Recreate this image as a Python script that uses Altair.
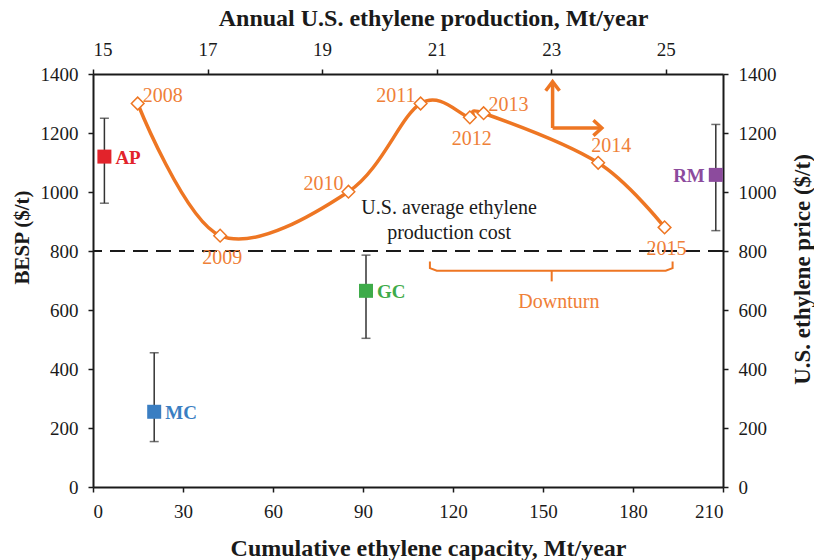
import altair as alt
import pandas as pd

# ---- data -------------------------------------------------------------
years = ["2008", "2009", "2010", "2011", "2012", "2013", "2014", "2015"]
production = [15.78, 17.22, 19.46, 20.72, 21.58, 21.82, 23.82, 24.98]   # Mt/year (top axis)
price = [1300, 852, 1001, 1300, 1253, 1267, 1099, 880]                # $/t (right axis)
year_label_side = ["right", "below", "left", "left", "below", "right", "above", "below"]

pathways = ["AP", "MC", "GC", "RM"]
capacity = [3.8, 20.4, 91.0, 207.6]          # Mt/year (bottom axis)
besp = [1120, 255, 665, 1058]                # $/t (left axis)
besp_low = [962, 154, 504, 869]
besp_high = [1250, 455, 786, 1229]
path_colors = ["#E2232B", "#3A7EC2", "#3EAB49", "#8C4B9D"]
path_label_side = ["right", "right", "right", "left"]

cost_line = 800
cost_text = ["U.S. average ethylene", "production cost"]
cost_text_x = [118.7, 118.7]
cost_text_y = [946, 861]

bracket_x = [112.3, 112.3, 114.6, 190.9, 193.2, 193.2]
bracket_y = [764, 742, 733, 733, 742, 764]
bracket_tip_x = [152.9, 152.9]
bracket_tip_y = [733, 697]
downturn_x = [155.3]
downturn_y = [628]

# arrows: seg id, x, y
arrow_seg = ["v", "v", "h", "h", "hv", "hv", "hv", "hh", "hh", "hh"]
arrow_x = [153.2, 153.2, 153.2, 169.3, 150.9, 153.2, 155.5, 166.8, 169.6, 166.8]
arrow_y = [1217, 1370, 1217, 1217, 1343, 1374, 1343, 1243, 1217, 1191]

# ---- styling ----------------------------------------------------------
FONT = "Liberation Serif"
ORANGE = "#EE7623"
ORANGE_TXT = "#EF8038"
INK = "#1a1a1a"

xb_scale = alt.Scale(domain=[0, 210], nice=False, zero=False)
yl_scale = alt.Scale(domain=[0, 1400], nice=False, zero=False)
xt_scale = alt.Scale(domain=[15, 26], nice=False, zero=False)
yr_scale = alt.Scale(domain=[0, 1400], nice=False, zero=False)

common_axis = dict(
    labelFont=FONT, labelFontSize=19, labelColor=INK, format="d",
    titleFont=FONT, titleFontWeight="bold", titleColor=INK,
    domainColor=INK, domainWidth=2, tickColor=INK, tickWidth=1.5, tickSize=5,
    labelPadding=10, grid=False,
)

axis_b = alt.Axis(orient="bottom", values=list(range(0, 211, 30)),
                  title="Cumulative ethylene capacity, Mt/year", titleFontSize=24,
                  titleX=335, titleY=61, titleBaseline="middle", titleAlign="center",
                  **common_axis)
axis_l = alt.Axis(orient="left", values=list(range(0, 1401, 200)),
                  title="BESP ($/t)", titleAngle=270, titleFontSize=21,
                  titleX=-71, titleY=163, titleBaseline="middle", titleAlign="center",
                  **common_axis)
axis_t = alt.Axis(orient="top", values=[15, 17, 19, 21, 23, 25],
                  title="Annual U.S. ethylene production, Mt/year", titleFontSize=24,
                  titleX=340, titleY=-56, titleBaseline="middle", titleAlign="center",
                  **common_axis)
axis_r = alt.Axis(orient="right", values=list(range(0, 1401, 200)),
                  title="U.S. ethylene price ($/t)", titleAngle=270, titleFontSize=23,
                  titleX=79, titleY=195, titleBaseline="middle", titleAlign="center",
                  **common_axis)


def XB(f):
    return alt.X(f, type="quantitative", scale=xb_scale, axis=axis_b)


def YL(f):
    return alt.Y(f, type="quantitative", scale=yl_scale, axis=axis_l)


def XT(f):
    return alt.X(f, type="quantitative", scale=xt_scale, axis=axis_t)


def YR(f):
    return alt.Y(f, type="quantitative", scale=yr_scale, axis=axis_r)


# ---- bottom / left group ----------------------------------------------
pdf = pd.DataFrame({"name": pathways, "x": capacity, "y": besp, "lo": besp_low,
                    "hi": besp_high, "color": path_colors, "side": path_label_side})

dash = alt.Chart(pd.DataFrame({"y": [cost_line]})).mark_rule(
    color=INK, strokeWidth=2, strokeDash=[15, 8]).encode(y=YL("y"))

err = alt.Chart(pdf).mark_rule(color="#333333", strokeWidth=1.5).encode(
    x=XB("x"), y=YL("lo"), y2="hi")
cap_lo = alt.Chart(pdf).mark_tick(color="#333333", thickness=1.5, size=9,
                                  orient="horizontal").encode(x=XB("x"), y=YL("lo"))
cap_hi = alt.Chart(pdf).mark_tick(color="#333333", thickness=1.5, size=9,
                                  orient="horizontal").encode(x=XB("x"), y=YL("hi"))
squares = alt.Chart(pdf).mark_square(size=196, opacity=1).encode(
    x=XB("x"), y=YL("y"), color=alt.Color("color:N", scale=None))
lab_r = alt.Chart(pdf).transform_filter(alt.datum.side == "right").mark_text(
    font=FONT, fontSize=19, fontWeight="bold", align="left", baseline="middle", dx=11, dy=1
).encode(x=XB("x"), y=YL("y"), text="name:N", color=alt.Color("color:N", scale=None))
lab_l = alt.Chart(pdf).transform_filter(alt.datum.side == "left").mark_text(
    font=FONT, fontSize=19, fontWeight="bold", align="right", baseline="middle", dx=-11, dy=1
).encode(x=XB("x"), y=YL("y"), text="name:N", color=alt.Color("color:N", scale=None))

cost_lbl = alt.Chart(pd.DataFrame({"t": cost_text, "x": cost_text_x, "y": cost_text_y})).mark_text(
    font=FONT, fontSize=20, color=INK, align="center", baseline="middle"
).encode(x=XB("x"), y=YL("y"), text="t:N")

bdf = pd.DataFrame({"x": bracket_x, "y": bracket_y, "o": list(range(len(bracket_x)))})
bracket = alt.Chart(bdf).mark_line(color=ORANGE, strokeWidth=2, interpolate="linear").encode(
    x=XB("x"), y=YL("y"), order="o:Q")
tip = alt.Chart(pd.DataFrame({"x": bracket_tip_x, "y": bracket_tip_y, "o": [0, 1]})).mark_line(
    color=ORANGE, strokeWidth=2).encode(x=XB("x"), y=YL("y"), order="o:Q")
downturn = alt.Chart(pd.DataFrame({"t": ["Downturn"], "x": downturn_x, "y": downturn_y})).mark_text(
    font=FONT, fontSize=20, color=ORANGE_TXT, align="center", baseline="middle"
).encode(x=XB("x"), y=YL("y"), text="t:N")

adf = pd.DataFrame({"seg": arrow_seg, "x": arrow_x, "y": arrow_y, "o": list(range(len(arrow_x)))})
arrows = alt.Chart(adf).mark_line(color=ORANGE, strokeWidth=3.5, strokeJoin="miter").encode(
    x=XB("x"), y=YL("y"), detail="seg:N", order="o:Q")

bottom = alt.layer(dash, err, cap_lo, cap_hi, squares, lab_r, lab_l, cost_lbl,
                   bracket, tip, downturn, arrows)

# ---- top / right group ------------------------------------------------
ydf = pd.DataFrame({"year": years, "prod": production, "price": price,
                    "o": list(range(len(years))), "side": year_label_side})

line = alt.Chart(ydf).mark_line(color=ORANGE, strokeWidth=3.5, interpolate="cardinal").encode(
    x=XT("prod"), y=YR("price"), order="o:Q")
diam = alt.Chart(ydf).mark_point(shape="diamond", size=160, filled=True, fill="white",
                                 stroke=ORANGE, strokeWidth=1.5, opacity=1).encode(
    x=XT("prod"), y=YR("price"))

side_cfg = {
    "right": dict(align="left", dx=5, dy=-8),
    "left": dict(align="right", dx=-5, dy=-8),
    "below": dict(align="center", dx=2, dy=22),
    "above": dict(align="center", dx=13, dy=-17),
}
ylabels = []
for side, cfg in side_cfg.items():
    ylabels.append(
        alt.Chart(ydf).transform_filter(alt.datum.side == side).mark_text(
            font=FONT, fontSize=20, color=ORANGE_TXT, baseline="middle", **cfg
        ).encode(x=XT("prod"), y=YR("price"), text="year:N")
    )

top = alt.layer(line, diam, *ylabels)

chart = alt.layer(bottom, top).resolve_scale(x="independent", y="independent").properties(
    width=630, height=413,
    autosize=alt.AutoSizeParams(type="none"),
    padding={"left": 93, "top": 74, "right": 91, "bottom": 73},
).configure_view(stroke=None).configure(background="white")

chart.save("out.html", embed_options={"renderer": "svg", "actions": False})
